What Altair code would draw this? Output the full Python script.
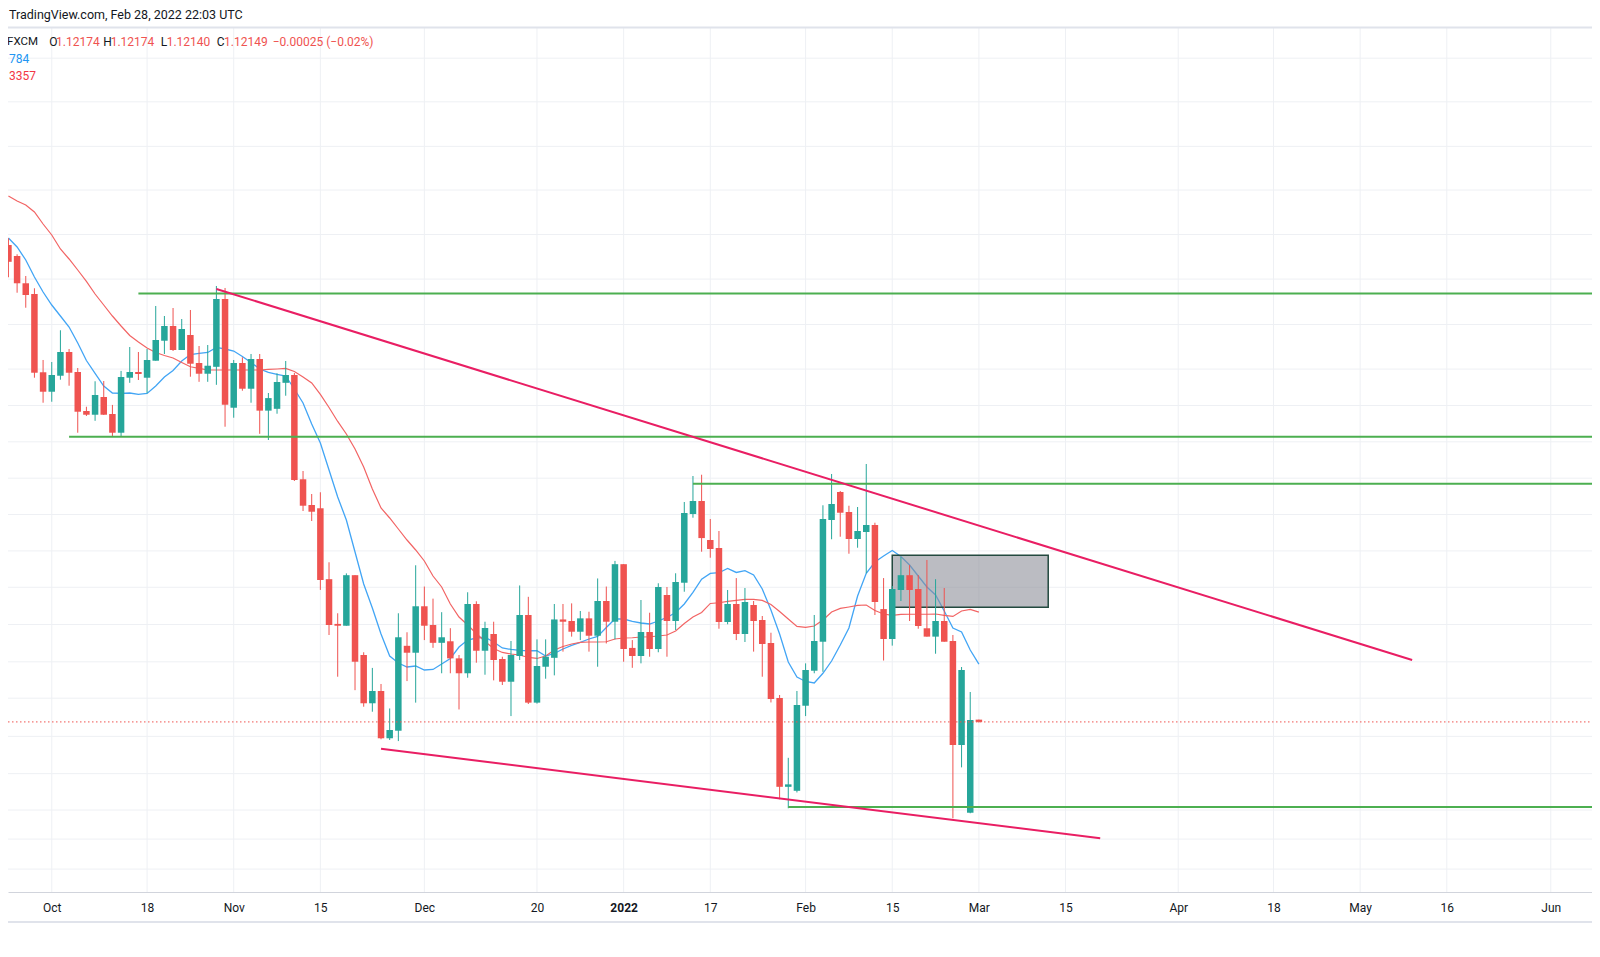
import altair as alt
import pandas as pd

FONT = "Roboto"
UP = "#26a69a"
DOWN = "#ef5350"

# trading-day index: 0 = 2021-10-01 ... 107 = 2022-03-01
bar_index = list(range(-5, 108))

opens = [1.17395, 1.17274, 1.16974, 1.16856, 1.15995, 1.15781, 1.15957, 1.16218, 1.15998, 1.15569,
         1.15528, 1.15723, 1.15536, 1.15330, 1.15935, 1.15998, 1.15935, 1.16122, 1.16342, 1.16504,
         1.16240, 1.16405, 1.16097, 1.15979, 1.16055, 1.16801, 1.15605, 1.16097, 1.15814, 1.16141,
         1.15573, 1.15593, 1.15879, 1.15965, 1.14818, 1.14535, 1.14499, 1.13719, 1.13227, 1.13207,
         1.13763, 1.12885, 1.12354, 1.12489, 1.11969, 1.12052, 1.12986, 1.12910, 1.13421, 1.13215,
         1.13019, 1.13036, 1.12848, 1.12684, 1.13446, 1.12932, 1.13116, 1.12841, 1.12591, 1.12874,
         1.13325, 1.12361, 1.12756, 1.12854, 1.13276, 1.13259, 1.13141, 1.13288, 1.13097, 1.13479,
         1.13251, 1.13884, 1.12963, 1.12874, 1.13138, 1.12951, 1.13545, 1.13259, 1.13680, 1.14436,
         1.14579, 1.14150, 1.14062, 1.13248, 1.13446, 1.13116, 1.13435, 1.13270, 1.13017, 1.12412,
         1.11435, 1.11391, 1.12327, 1.12712, 1.13031, 1.14370, 1.14678, 1.14458, 1.14161, 1.14238,
         1.14315, 1.13390, 1.13061, 1.13600, 1.13763, 1.13611, 1.13179, 1.13087, 1.13259, 1.13039,
         1.11895, 1.11150, 1.12174]
highs = [1.17469, 1.17293, 1.17054, 1.16919, 1.16130, 1.16108, 1.16457, 1.16251, 1.16042, 1.15616,
         1.15896, 1.15899, 1.15636, 1.16010, 1.16273, 1.16218, 1.16251, 1.16724, 1.16614, 1.16702,
         1.16581, 1.16680, 1.16284, 1.16295, 1.16944, 1.16922, 1.16130, 1.16160, 1.16196, 1.16196,
         1.15767, 1.15984, 1.16119, 1.15987, 1.14909, 1.14656, 1.14675, 1.13905, 1.13344, 1.13783,
         1.13763, 1.12915, 1.12743, 1.12566, 1.12297, 1.13344, 1.13135, 1.13872, 1.13638, 1.13505,
         1.13356, 1.13180, 1.12885, 1.13575, 1.13476, 1.13251, 1.13251, 1.12866, 1.13039, 1.13650,
         1.13525, 1.13057, 1.13057, 1.13446, 1.13446, 1.13453, 1.13369, 1.13361, 1.13727, 1.13638,
         1.13920, 1.13884, 1.13049, 1.13490, 1.13350, 1.13674, 1.13633, 1.13784, 1.14568, 1.14854,
         1.14868, 1.14381, 1.14249, 1.13600, 1.13731, 1.13622, 1.13479, 1.13314, 1.13130, 1.12445,
         1.11754, 1.12489, 1.12793, 1.13325, 1.14532, 1.14876, 1.14689, 1.14527, 1.14513, 1.14986,
         1.14340, 1.13731, 1.13644, 1.13963, 1.13875, 1.13765, 1.13930, 1.13719, 1.13622, 1.13105,
         1.12753, 1.12478, 1.12174]
lows = [1.17040, 1.16870, 1.16705, 1.15935, 1.15660, 1.15671, 1.15913, 1.15847, 1.15330, 1.15514,
        1.15461, 1.15525, 1.15286, 1.15286, 1.15879, 1.15910, 1.15764, 1.16122, 1.16196, 1.16229,
        1.16240, 1.15946, 1.15890, 1.15890, 1.15857, 1.15396, 1.15495, 1.15792, 1.15660, 1.15318,
        1.15250, 1.15539, 1.15737, 1.14799, 1.14469, 1.14359, 1.13601, 1.13105, 1.12646, 1.13207,
        1.12498, 1.12316, 1.12261, 1.11958, 1.11950, 1.11938, 1.12598, 1.12361, 1.13049, 1.12964,
        1.12684, 1.12684, 1.12286, 1.12635, 1.12800, 1.12668, 1.12606, 1.12555, 1.12213, 1.12830,
        1.12346, 1.12350, 1.12624, 1.12661, 1.12922, 1.13087, 1.13049, 1.12922, 1.12756, 1.13012,
        1.13057, 1.12811, 1.12744, 1.12793, 1.12866, 1.12915, 1.12866, 1.13160, 1.13581, 1.14395,
        1.14021, 1.13955, 1.13174, 1.13223, 1.13049, 1.13028, 1.12922, 1.12646, 1.12363, 1.11298,
        1.11199, 1.11373, 1.12213, 1.12684, 1.12700, 1.14158, 1.14186, 1.13999, 1.14065, 1.13784,
        1.13325, 1.12824, 1.12988, 1.13479, 1.13259, 1.13174, 1.13087, 1.12899, 1.13031, 1.11089,
        1.11649, 1.11144, 1.12140]
closes = [1.17210, 1.16974, 1.16845, 1.15990, 1.15781, 1.15965, 1.16218, 1.15990, 1.15561, 1.15528,
          1.15745, 1.15528, 1.15330, 1.15943, 1.15998, 1.15976, 1.16130, 1.16350, 1.16504, 1.16240,
          1.16471, 1.16089, 1.15979, 1.16067, 1.16801, 1.15638, 1.16097, 1.15814, 1.16141, 1.15573,
          1.15711, 1.15888, 1.15965, 1.14810, 1.14527, 1.14461, 1.13710, 1.13215, 1.13207, 1.13763,
          1.12811, 1.12354, 1.12489, 1.11969, 1.12060, 1.13080, 1.12910, 1.13421, 1.13207, 1.13019,
          1.13080, 1.12848, 1.12684, 1.13446, 1.12932, 1.13182, 1.12830, 1.12591, 1.12885, 1.13325,
          1.12361, 1.12764, 1.12866, 1.13276, 1.13251, 1.13141, 1.13288, 1.13097, 1.13479, 1.13251,
          1.13884, 1.12951, 1.12874, 1.13138, 1.12951, 1.13633, 1.13259, 1.13688, 1.14447, 1.14579,
          1.14171, 1.14051, 1.13248, 1.13446, 1.13116, 1.13468, 1.13259, 1.13006, 1.12401, 1.11435,
          1.11462, 1.12335, 1.12720, 1.13039, 1.14381, 1.14546, 1.14450, 1.14161, 1.14249, 1.14315,
          1.13468, 1.13061, 1.13611, 1.13763, 1.13600, 1.13204, 1.13087, 1.13259, 1.13031, 1.11895,
          1.12720, 1.12170, 1.12149]

ma_fast = [1.17472, 1.17373, 1.17230, 1.17043, 1.16878, 1.16735, 1.16614, 1.16493, 1.16317, 1.16124,
           1.15982, 1.15844, 1.15767, 1.15762, 1.15767, 1.15751, 1.15762, 1.15844, 1.15943, 1.16015,
           1.16119, 1.16190, 1.16202, 1.16213, 1.16268, 1.16251, 1.16229, 1.16169, 1.16103, 1.16031,
           1.15993, 1.15971, 1.15954, 1.15811, 1.15657, 1.15426, 1.15217, 1.14920, 1.14623, 1.14370,
           1.14018, 1.13666, 1.13402, 1.13116, 1.12874, 1.12797, 1.12753, 1.12764, 1.12720, 1.12726,
           1.12786, 1.12847, 1.12973, 1.13050, 1.13072, 1.13080, 1.13028, 1.12962, 1.12946, 1.12935,
           1.12932, 1.12932, 1.12874, 1.12902, 1.12951, 1.12990, 1.13023, 1.13061, 1.13089, 1.13188,
           1.13281, 1.13281, 1.13254, 1.13237, 1.13226, 1.13259, 1.13298, 1.13353, 1.13446, 1.13573,
           1.13719, 1.13782, 1.13790, 1.13837, 1.13793, 1.13812, 1.13765, 1.13611, 1.13380, 1.13116,
           1.12808, 1.12643, 1.12594, 1.12577, 1.12684, 1.12819, 1.12995, 1.13182, 1.13534, 1.13784,
           1.13908, 1.13974, 1.14035, 1.13969, 1.13875, 1.13754, 1.13633, 1.13545, 1.13369, 1.13182,
           1.13138, 1.12940, 1.12784]
ma_slow = [1.17934, 1.17879, 1.17835, 1.17758, 1.17626, 1.17505, 1.17351, 1.17241, 1.17120, 1.16994,
           1.16856, 1.16735, 1.16614, 1.16504, 1.16400, 1.16328, 1.16262, 1.16213, 1.16180, 1.16152,
           1.16103, 1.16056, 1.16037, 1.16020, 1.16020, 1.16020, 1.16020, 1.16020, 1.16020, 1.16020,
           1.16026, 1.16031, 1.16037, 1.16004, 1.15943, 1.15877, 1.15751, 1.15608, 1.15454, 1.15316,
           1.15151, 1.14953, 1.14711, 1.14502, 1.14392, 1.14271, 1.14150, 1.14040, 1.13919, 1.13754,
           1.13633, 1.13446, 1.13303, 1.13215, 1.13122, 1.13034, 1.12957, 1.12913, 1.12896, 1.12885,
           1.12858, 1.12847, 1.12874, 1.12940, 1.12979, 1.13006, 1.13023, 1.13028, 1.13028, 1.13031,
           1.13061, 1.13072, 1.13075, 1.13083, 1.13086, 1.13094, 1.13105, 1.13149, 1.13232, 1.13303,
           1.13353, 1.13452, 1.13460, 1.13474, 1.13485, 1.13496, 1.13496, 1.13485, 1.13441, 1.13364,
           1.13281, 1.13199, 1.13190, 1.13204, 1.13270, 1.13358, 1.13397, 1.13413, 1.13430, 1.13435,
           1.13375, 1.13336, 1.13320, 1.13331, 1.13333, 1.13333, 1.13333, 1.13336, 1.13320, 1.13309,
           1.13369, 1.13386, 1.13357]

tick_idx = [0, 11, 21, 31, 43, 56, 66, 76, 87, 97, 107, 117, 130, 141, 151, 161, 173]
tick_lab = ["Oct", "18", "Nov", "15", "Dec", "20", "2022", "17", "Feb", "15", "Mar", "15",
            "Apr", "18", "May", "16", "Jun"]
grid_prices = [1.1945, 1.1897, 1.1848, 1.1800, 1.1751, 1.1702, 1.1652, 1.1603, 1.1563, 1.1523,
               1.1483, 1.1443, 1.1403, 1.1363, 1.1322, 1.1281, 1.1241, 1.1199, 1.1158, 1.1118,
               1.1086, 1.1053]

level_price = [1.16861, 1.15286, 1.14768, 1.11213]
level_start = [10, 2, 74, 85]
trend_x = [19, 38]
trend_x2 = [157, 121]
trend_y = [1.16911, 1.11854]
trend_y2 = [1.12830, 1.10869]
zone_x, zone_x2, zone_top, zone_bottom = [97], [115], [1.13982], [1.13410]
last_close = [1.12149]

W, H = 1584, 884
X_DOM = [-4.4725, 177.18]
Y_DOM = [1.10278, 1.20002]
xs = alt.Scale(domain=X_DOM, nice=False, zero=False)
ys = alt.Scale(domain=Y_DOM, nice=False, zero=False)

candles = pd.DataFrame({"i": bar_index, "open": opens, "high": highs, "low": lows, "close": closes})
ma = pd.DataFrame({"i": bar_index, "fast": ma_fast, "slow": ma_slow})
one = pd.DataFrame({"k": [0]})

label_expr = ("[" + ",".join("'%s'" % t for t in tick_lab) + "][indexof(["
              + ",".join(str(v) for v in tick_idx) + "], datum.value)]")

X_AXIS = alt.Axis(
    values=tick_idx, labelExpr=label_expr, grid=False, ticks=False, tickSize=0,
    labelPadding=15, labelBaseline="middle", labelFontSize=12, labelColor="#131722",
    labelFont=FONT, domainColor="#d1d4dc", labelFlush=False, labelOverlap=False,
    labelFontWeight={"condition": {"test": "datum.value == 66", "value": "bold"}, "value": "normal"},
    title=None)


def xq(field):
    return alt.X(field, scale=xs, axis=X_AXIS)


vgrid = alt.Chart(pd.DataFrame({"i": tick_idx})).mark_rule(color="#eef0f4", strokeWidth=1).encode(
    x=xq("i:Q"), y=alt.value(19.5), y2=alt.value(H))
hgrid = alt.Chart(pd.DataFrame({"p": grid_prices})).mark_rule(color="#eef0f4", strokeWidth=1).encode(
    y=alt.Y("p:Q", scale=ys, axis=None), x=alt.value(0), x2=alt.value(W))
top_line = alt.Chart(one).mark_rule(color="#e0e3eb", strokeWidth=2).encode(
    y=alt.value(19.5), x=alt.value(0), x2=alt.value(W))
bottom_line = alt.Chart(one).mark_rule(color="#e0e3eb", strokeWidth=2).encode(
    y=alt.value(914), x=alt.value(0), x2=alt.value(W))

ma_fast_line = alt.Chart(ma).mark_line(color="#42a5f5", strokeWidth=1.3, clip=True).encode(
    x=xq("i:Q"), y=alt.Y("fast:Q", scale=ys, axis=None))
ma_slow_line = alt.Chart(ma).mark_line(color="#f26464", strokeWidth=1.2, clip=True).encode(
    x=xq("i:Q"), y=alt.Y("slow:Q", scale=ys, axis=None))

zone = alt.Chart(pd.DataFrame({"a": zone_x, "b": zone_x2, "t": zone_top, "u": zone_bottom})).mark_rect(
    fill="#8d9099", fillOpacity=0.6, stroke="#23493f", strokeWidth=1.5, clip=True).encode(
    x=xq("a:Q"), x2="b:Q",
    y=alt.Y("t:Q", scale=ys, axis=None), y2="u:Q")

col = alt.condition("datum.close >= datum.open", alt.value(UP), alt.value(DOWN))
wicks = alt.Chart(candles).mark_rule(strokeWidth=1, clip=True).encode(
    x=xq("i:Q"), y=alt.Y("low:Q", scale=ys, axis=None), y2="high:Q", color=col)
bodies = alt.Chart(candles).mark_bar(size=6.5, clip=True).encode(
    x=xq("i:Q"), y=alt.Y("open:Q", scale=ys, axis=None), y2="close:Q", color=col)

levels = alt.Chart(pd.DataFrame({"s": level_start, "p": level_price})).mark_rule(
    color="#4caf50", strokeWidth=2, clip=True).encode(
    x=xq("s:Q"), x2=alt.value(W), y=alt.Y("p:Q", scale=ys, axis=None))

trends = alt.Chart(pd.DataFrame({"a": trend_x, "b": trend_x2, "c": trend_y, "d": trend_y2})).mark_rule(
    color="#e91e63", strokeWidth=2, clip=True).encode(
    x=xq("a:Q"), x2="b:Q",
    y=alt.Y("c:Q", scale=ys, axis=None), y2="d:Q")

close_line = alt.Chart(pd.DataFrame({"p": last_close})).mark_rule(
    color="#ef5350", strokeWidth=1, strokeDash=[1.5, 2.5]).encode(
    y=alt.Y("p:Q", scale=ys, axis=None), x=alt.value(0), x2=alt.value(W))


def txt(s, x, y, color, align="left", size=12, weight="normal"):
    return alt.Chart(pd.DataFrame({"t": [s]})).mark_text(
        align=align, baseline="middle", fontSize=size, font=FONT, color=color,
        fontWeight=weight).encode(x=alt.value(x), y=alt.value(y), text="t:N")


texts = [
    txt("TradingView.com, Feb 28, 2022 22:03 UTC", 1, 6.5, "#131722", "left", 12.5),
    txt("FXCM", 30, 33.7, "#131722", "right", 11.5),
    txt("O", 41.3, 33.7, "#131722"), txt("1.12174", 48, 33.7, DOWN),
    txt("H", 95.3, 33.7, "#131722"), txt("1.12174", 102.7, 33.7, DOWN),
    txt("L", 152.7, 33.7, "#131722"), txt("1.12140", 158.7, 33.7, DOWN),
    txt("C", 208.7, 33.7, "#131722"), txt("1.12149", 216, 33.7, DOWN),
    txt("\u22120.00025 (\u22120.02%)", 264.7, 33.7, DOWN),
    txt("784", 1, 51, "#2196f3"),
    txt("3357", 1, 68, "#f23645"),
]

chart = alt.layer(
    vgrid, hgrid, top_line, bottom_line, ma_fast_line, ma_slow_line, zone, wicks, bodies,
    levels, trends, close_line, *texts
).properties(
    width=W, height=H,
    autosize=alt.AutoSizeParams(type="none"),
    padding={"left": 0, "top": 0, "right": 0, "bottom": 50},
    background="white",
).configure_view(stroke=None)

chart.save("out.html", embed_options={"renderer": "svg", "actions": False})
